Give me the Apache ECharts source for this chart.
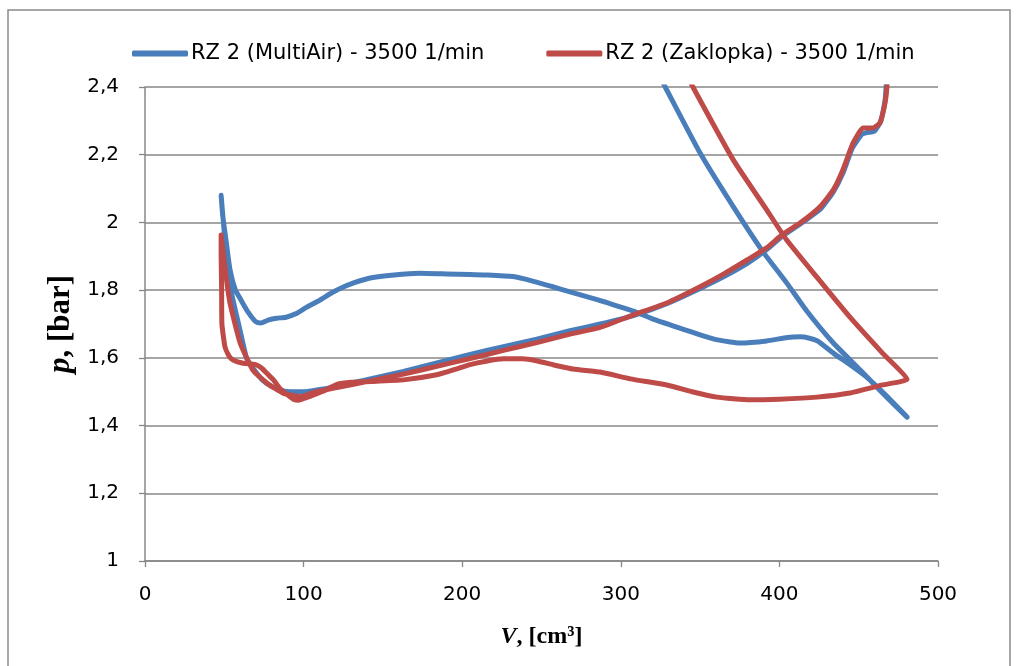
<!DOCTYPE html>
<html>
<head>
<meta charset="utf-8">
<script src="https://cdn.jsdelivr.net/npm/echarts@6/dist/echarts.min.js"></script>
<style>
html,body{margin:0;padding:0;background:#fff;}
#chart{width:1016px;height:666px;}
</style>
</head>
<body>
<div id="chart"></div>
<script>
// Series names
var seriesNames = ['RZ 2 (MultiAir) - 3500 1/min', 'RZ 2 (Zaklopka) - 3500 1/min'];

// Axis ticks
var xTicks = [0, 100, 200, 300, 400, 500];
var yTicks = [1, 1.2, 1.4, 1.6, 1.8, 2, 2.2, 2.4];

// MultiAir loop [V cm3, p bar] (values above 2.4 lie outside the plot and are clipped)
var multiAir = [
  [48,2.08],[49,2.02],[51,1.95],[53.6,1.86],[57,1.80],[60,1.775],[65,1.735],[70,1.706],[73,1.703],
  [78,1.712],[83,1.717],[89,1.72],[95,1.73],[102,1.75],[110,1.77],[117,1.79],[123,1.805],[132,1.822],
  [142,1.836],[157,1.845],[173,1.85],[190,1.848],[205,1.846],[216,1.845],[232,1.84],[245,1.826],
  [257,1.81],[268,1.795],[279,1.78],[290,1.765],[300,1.75],[308,1.738],[320,1.715],[339,1.685],
  [350,1.668],[361,1.653],[375,1.644],[392,1.65],[405,1.66],[413,1.662],[419,1.658],[424,1.65],
  [434,1.614],[445,1.578],[455,1.543],[467,1.49],[480.5,1.425],
  [465,1.496],[451,1.564],[434,1.644],[417,1.74],[404.8,1.82],[389.7,1.913],[371,2.046],[350,2.205],
  [328,2.4],[310,2.56],[300,2.7],[472,2.7],
  [468,2.45],[466.6,2.36],[464,2.30],[460,2.27],[455,2.265],[452,2.26],[446,2.22],[440,2.145],
  [434,2.09],[426,2.04],[413,1.995],[402,1.96],[392,1.92],[380,1.88],[365,1.84],[350,1.805],
  [329,1.76],[308,1.725],[287,1.70],[268,1.68],[247,1.655],[226,1.633],[205,1.61],[184,1.585],
  [163,1.56],[142,1.538],[121,1.515],[108,1.505],[100,1.50],[92,1.50],[87,1.502],[80,1.515],
  [74,1.535],[68,1.57],[64,1.6],[60,1.68],[57,1.74],[54.6,1.79],[52,1.88],[50,1.97],[48,2.08]
];

// Zaklopka loop [V cm3, p bar]
var zaklopka = [
  [48,1.963],[48,1.90],[48.3,1.81],[48.5,1.70],[50.4,1.633],[53,1.605],[55.5,1.594],[62,1.584],
  [67,1.582],[70.4,1.579],[74,1.568],[76.7,1.555],[81,1.535],[85,1.51],[89.5,1.492],[93.5,1.478],
  [97,1.475],[100,1.48],[106,1.49],[114,1.505],[121,1.522],[130,1.528],[142,1.53],[163,1.535],
  [184,1.55],[195,1.565],[205,1.58],[215,1.59],[226,1.597],[238,1.597],[248,1.59],[257,1.58],
  [270,1.567],[287,1.558],[306,1.538],[329,1.52],[345,1.50],[360.6,1.484],[381.5,1.476],[400,1.478],
  [423.7,1.484],[444.5,1.496],[465,1.52],[480.5,1.537],
  [465,1.614],[444.5,1.72],[423.5,1.839],[404.6,1.948],[392,2.037],[371,2.184],[345.5,2.4],
  [330,2.55],[320,2.7],[470,2.7],
  [468,2.45],[467.8,2.4],[466.6,2.353],[463.4,2.294],[459,2.279],[452.7,2.279],[446.4,2.234],
  [440,2.155],[434,2.096],[425.6,2.046],[413,1.998],[402,1.965],[392,1.925],[379.6,1.889],
  [365,1.848],[350,1.81],[329,1.762],[308,1.727],[287,1.69],[268,1.67],[247,1.645],[226,1.622],
  [205,1.598],[184,1.575],[163,1.552],[142,1.532],[121,1.512],[108,1.5],[98,1.485],[87,1.496],
  [76.7,1.526],[68,1.564],[60,1.644],[53.6,1.762],[50,1.88],[48,1.963]
];

var chart = echarts.init(document.getElementById('chart'));
var labelFont = "'DejaVu Sans','Open Sans',sans-serif";
var serifFont = "'Liberation Serif','DejaVu Serif',serif";
var gridColor = '#878787';

chart.setOption({
  animation: false,
  backgroundColor: '#fff',
  graphic: [{
    type: 'rect',
    shape: {x: 8, y: 10, width: 1002, height: 670},
    style: {fill: 'none', stroke: '#8a8a8a', lineWidth: 1.5},
    silent: true
  }],
  legend: {
    top: 38,
    left: 127,
    itemGap: 62,
    itemWidth: 56,
    itemHeight: 6,
    icon: 'roundRect',
    textStyle: {fontFamily: labelFont, fontSize: 21, color: '#000', padding: [0, 0, 0, -2]},
    data: seriesNames
  },
  grid: {left: 145, right: 78, top: 87, bottom: 105},
  xAxis: {
    type: 'value',
    min: xTicks[0],
    max: xTicks[xTicks.length - 1],
    interval: 100,
    name: '{i|V}{b|, [cm³]}',
    nameLocation: 'middle',
    nameGap: 64,
    nameTextStyle: {
      rich: {
        i: {fontFamily: serifFont, fontStyle: 'italic', fontWeight: 'bold', fontSize: 24, color: '#000'},
        b: {fontFamily: serifFont, fontWeight: 'bold', fontSize: 24, color: '#000'}
      }
    },
    axisLine: {lineStyle: {color: gridColor, width: 1.5}},
    axisTick: {show: true, length: 6, lineStyle: {color: gridColor, width: 1.3}},
    axisLabel: {fontFamily: labelFont, fontSize: 20, color: '#000', margin: 24},
    splitLine: {show: false}
  },
  yAxis: {
    type: 'value',
    min: yTicks[0],
    max: yTicks[yTicks.length - 1],
    interval: 0.2,
    name: '{i|p}{b|, [bar]}',
    nameLocation: 'middle',
    nameGap: 68,
    nameRotate: 90,
    nameTextStyle: {
      rich: {
        i: {fontFamily: serifFont, fontStyle: 'italic', fontWeight: 'bold', fontSize: 31, color: '#000'},
        b: {fontFamily: serifFont, fontWeight: 'bold', fontSize: 31, color: '#000'}
      }
    },
    axisLine: {show: true, lineStyle: {color: gridColor, width: 1.5}},
    axisTick: {show: true, length: 6, lineStyle: {color: gridColor, width: 1.3}},
    axisLabel: {
      fontFamily: labelFont, fontSize: 20, color: '#000', margin: 26,
      formatter: function (v) { return String(Math.round(v * 10) / 10).replace('.', ','); }
    },
    splitLine: {show: true, lineStyle: {color: gridColor, width: 1.5}}
  },
  series: [
    {
      name: seriesNames[0], type: 'line', data: multiAir, showSymbol: false, symbol: 'none',
      smooth: 0.15, clip: true,
      lineStyle: {color: '#4a7ebb', width: 5, cap: 'round', join: 'round'},
      itemStyle: {color: '#4a7ebb'}
    },
    {
      name: seriesNames[1], type: 'line', data: zaklopka, showSymbol: false, symbol: 'none',
      smooth: 0.15, clip: true,
      lineStyle: {color: '#be4b48', width: 5, cap: 'round', join: 'round'},
      itemStyle: {color: '#be4b48'}
    }
  ]
});
</script>
</body>
</html>
